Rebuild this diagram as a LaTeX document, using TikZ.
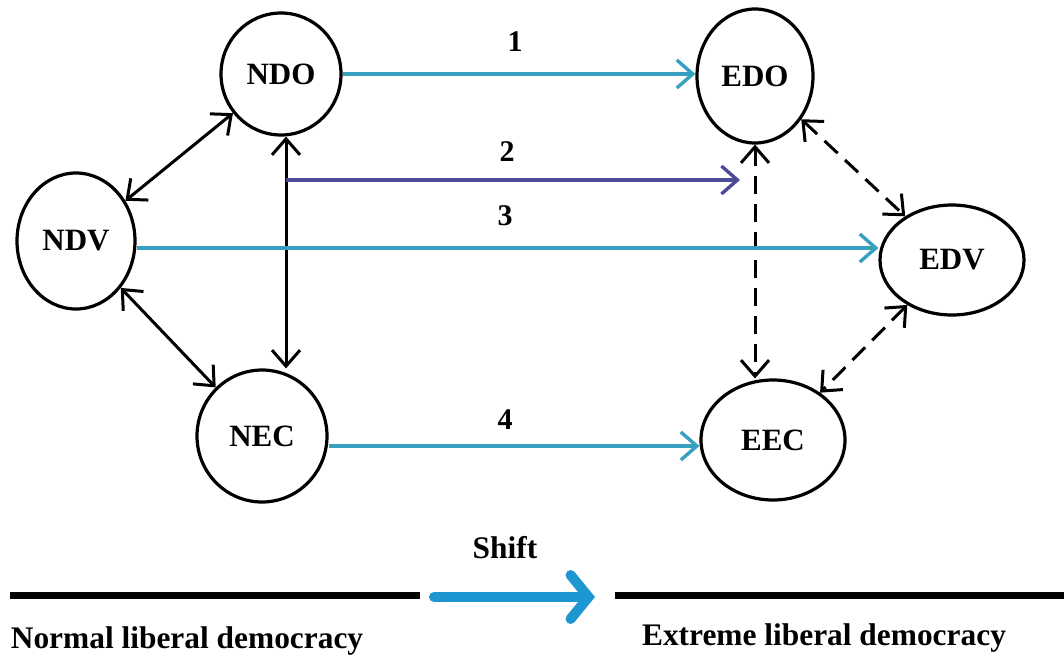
\documentclass[tikz,border=0pt]{standalone}
\usepackage{fontspec}
\setmainfont{Liberation Serif}
\usepackage{tikz}
\usetikzlibrary{shapes.geometric,arrows.meta}
\definecolor{cyanline}{RGB}{55,160,190}
\definecolor{navyline}{RGB}{75,75,150}
\definecolor{shiftblue}{RGB}{30,150,210}
\tikzstyle{state} = [draw=black, line width=1.6pt, ellipse, inner sep=0pt, font={\fontsize{15.5}{18}\selectfont\bfseries}]
\tikzstyle{link} = [line width=1.5pt, {Straight Barb[length=8pt,width=14pt]}-{Straight Barb[length=8pt,width=14pt]}]
\tikzstyle{soft} = [link, dash pattern=on 9pt off 5pt]
\tikzstyle{move} = [line width=1.7pt, color=cyanline, -{Straight Barb[length=8pt,width=14pt]}]
\tikzstyle{num} = [font={\fontsize{15}{18}\selectfont\bfseries}]
\tikzstyle{caption} = [font={\fontsize{15.7}{18}\selectfont\bfseries}]
\tikzstyle{axis} = [line width=3.5pt]

\begin{document}
\begin{tikzpicture}[x=0.5pt,y=-0.5pt]
  \useasboundingbox (0,0) rectangle (1064,659);
  \node[state,minimum width=60pt,minimum height=61pt](NDO) at (281,74){NDO};
  \node[state,minimum width=59pt,minimum height=68pt](NDV) at (76,241){NDV};
  \node[state,minimum width=65pt,minimum height=66pt](NEC) at (262,436){NEC};
  \node[state,minimum width=58pt,minimum height=67pt](EDO) at (755,76){EDO};
  \node[state,minimum width=72pt,minimum height=55pt](EDV) at (952,260){EDV};
  \node[state,minimum width=72pt,minimum height=60pt](EEC) at (773,440){EEC};
  \coordinate (v2) at (286,180);
  \coordinate (e2) at (740,180);
  % normal side
  \draw[link](NDV)--(NDO);
  \draw[link](NDV)--(NEC);
  \draw[link](NDO.south -| v2)--(NEC.north -| v2);
  % extreme side
  \draw[soft](EDO.south)--(EDO.south |- EEC.north);
  \draw[soft](EDO)--(EDV);
  \draw[soft](EDV)--(EEC);
  % shifts
  \draw[move](NDO)--(EDO.west |- NDO);
  \draw[move,color=navyline](v2)--(e2);
  \draw[move](NDV.east |- 0,248)--(EDV.west |- 0,248);
  \draw[move](NEC.east |- 0,446)--(EEC.west |- 0,446);
  \node[num](n1) at (515,42){1};
  \node[num](n2) at (507,152){2};
  \node[num](n3) at (505,216){3};
  \node[num](n4) at (505,420){4};
  % bottom axis
  \coordinate (a0) at (10,595);
  \coordinate (a1) at (420,595);
  \coordinate (b0) at (615,595);
  \coordinate (b1) at (1064,595);
  \coordinate (s0) at (434,597);
  \coordinate (s1) at (595,597);
  \draw[axis](a0)--(a1);
  \draw[axis](b0)--(b1);
  \draw[shiftblue,line width=5pt,line cap=round,-{Straight Barb[length=9pt,width=22pt,line cap=round]}](s0)--(s1);
  \node[caption](sh) at (505,548){Shift};
  \node[caption](nl) at (187,641){Normal liberal democracy};
  \node[caption](el) at (824,638){Extreme liberal democracy};
\end{tikzpicture}
\end{document}
